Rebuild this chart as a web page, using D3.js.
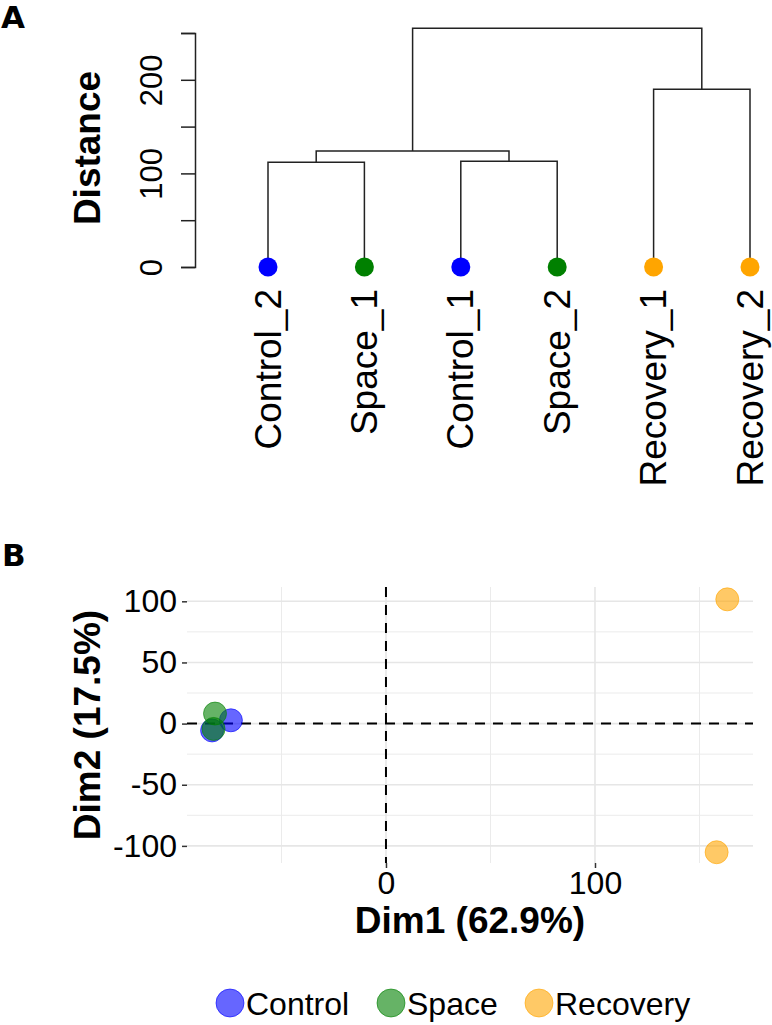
<!DOCTYPE html>
<html>
<head>
<meta charset="utf-8">
<script src="https://cdn.jsdelivr.net/npm/d3@7"></script>
<style>
  body { margin: 0; background: #fff; }
  svg { display: block; }
  text { font-family: "Liberation Sans", Arial, sans-serif; }
</style>
</head>
<body>
<svg id="chart" width="772" height="1025"></svg>
<script>
// dendrogram (panel A)
var leaves = ["Control_2", "Space_1", "Control_1", "Space_2", "Recovery_1", "Recovery_2"];
var leafGroups = ["Control", "Space", "Control", "Space", "Recovery", "Recovery"];
// hclust style merges: negative = leaf index (1 based), positive = earlier merge
var merges = [[-1, -2], [-3, -4], [1, 2], [-5, -6], [3, 4]];
var mergeHeights = [112, 113, 124, 190, 255];
var distTicks = [0, 50, 100, 150, 200, 250];

// PCA (panel B)
var groups = ["Control", "Space", "Recovery"];
var sampleNames = ["Control_1", "Control_2", "Space_1", "Space_2", "Recovery_1", "Recovery_2"];
var sampleGroups = ["Control", "Control", "Space", "Space", "Recovery", "Recovery"];
var dim1 = [-74.2, -83.2, -81.8, -82.5, 163.3, 158.2];
var dim2 = [2.7, -5.6, 8.2, -4.4, 101.6, -105.2];
var xMajor = [0, 100];
var xMinor = [-50, 50, 150];
var yMajor = [-100, -50, 0, 50, 100];
var yMinor = [-75, -25, 25, 75];

var dotColor = { "Control": "#0000ff", "Space": "#008000", "Recovery": "#ffa500" };

var svg = d3.select("#chart");

/* ---------- panel A ---------- */
svg.append("text").attr("x", 1).attr("y", 28)
  .style("font-family", "DejaVu Sans").style("font-weight", "bold").style("font-size", "31px")
  .text("A");

var xLeaf = d3.scalePoint().domain(leaves).range([268, 750]);
var yDist = d3.scaleLinear().domain([0, 250]).range([267, 33]);

var gA = svg.append("g");

// axis, R style: only every other label fits
var distAxis = d3.axisLeft(yDist).tickValues(distTicks).tickSize(14).tickPadding(0)
  .tickFormat(function(d) { return d % 100 === 0 ? String(d) : ""; });
var ga = gA.append("g").attr("transform", "translate(195,0)").call(distAxis);
ga.select(".domain").attr("stroke", "#222").attr("stroke-width", 1.5);
ga.selectAll(".tick line").attr("stroke", "#222").attr("stroke-width", 1.5);
ga.selectAll(".tick text")
  .attr("x", null).attr("dy", null)
  .attr("transform", "translate(-33,0) rotate(-90)")
  .attr("text-anchor", "middle")
  .attr("fill", "#000")
  .style("font-size", "31px");

gA.append("text")
  .attr("transform", "translate(100,148) rotate(-90)")
  .attr("text-anchor", "middle")
  .style("font-weight", "bold").style("font-size", "37px")
  .text("Distance");

// node positions
var nodeX = [], nodeY = [];
function posOf(k) {
  if (k < 0) return [xLeaf(leaves[-k - 1]), yDist(0)];
  return [nodeX[k - 1], nodeY[k - 1]];
}
merges.forEach(function(m, i) {
  var a = posOf(m[0]), b = posOf(m[1]);
  var h = yDist(mergeHeights[i]);
  nodeX.push((a[0] + b[0]) / 2);
  nodeY.push(h);
  gA.append("path")
    .attr("d", "M" + a[0] + "," + a[1] + "V" + h + "H" + b[0] + "V" + b[1])
    .attr("fill", "none").attr("stroke", "#222").attr("stroke-width", 1.5);
});

gA.selectAll(".leaf-dot")
  .data(leaves).enter()
  .append("circle")
  .attr("cx", function(d) { return xLeaf(d); })
  .attr("cy", yDist(0))
  .attr("r", 9.5)
  .attr("fill", function(d, i) { return dotColor[leafGroups[i]]; });

gA.selectAll(".leaf-label")
  .data(leaves).enter()
  .append("text")
  .attr("transform", function(d) { return "translate(" + xLeaf(d) + ",289) rotate(-90)"; })
  .attr("text-anchor", "end")
  .attr("dy", "0.34em")
  .style("font-size", "37px")
  .text(function(d) { return d; });

/* ---------- panel B ---------- */
svg.append("text").attr("x", 2).attr("y", 566)
  .style("font-family", "DejaVu Sans").style("font-weight", "bold").style("font-size", "31px")
  .text("B");

var x = d3.scaleLinear().domain([-95.2, 175.6]).range([187, 753]);
var y = d3.scaleLinear().domain([-114, 111.7]).range([863, 587]);

var gB = svg.append("g");

// grid
gB.selectAll(".xminor").data(xMinor).enter().append("line")
  .attr("x1", function(d) { return x(d); }).attr("x2", function(d) { return x(d); })
  .attr("y1", y.range()[1]).attr("y2", y.range()[0])
  .attr("stroke", "#ebebeb").attr("stroke-width", 1);
gB.selectAll(".yminor").data(yMinor).enter().append("line")
  .attr("y1", function(d) { return y(d); }).attr("y2", function(d) { return y(d); })
  .attr("x1", x.range()[0]).attr("x2", x.range()[1])
  .attr("stroke", "#ebebeb").attr("stroke-width", 1);
gB.selectAll(".xmajor").data(xMajor).enter().append("line")
  .attr("x1", function(d) { return x(d); }).attr("x2", function(d) { return x(d); })
  .attr("y1", y.range()[1]).attr("y2", y.range()[0])
  .attr("stroke", "#e6e6e6").attr("stroke-width", 1.6);
gB.selectAll(".ymajor").data(yMajor).enter().append("line")
  .attr("y1", function(d) { return y(d); }).attr("y2", function(d) { return y(d); })
  .attr("x1", x.range()[0]).attr("x2", x.range()[1])
  .attr("stroke", "#e6e6e6").attr("stroke-width", 1.6);

// axes (no domain line); plain hyphen for negatives like ggplot
var plain = function(d) { return String(d); };
var xAxis = d3.axisBottom(x).tickValues(xMajor).tickSize(5).tickPadding(3).tickFormat(plain);
var gx = gB.append("g").attr("transform", "translate(0," + y.range()[0] + ")").call(xAxis);
var yAxis = d3.axisLeft(y).tickValues(yMajor).tickSize(5).tickPadding(5).tickFormat(plain);
var gy = gB.append("g").attr("transform", "translate(" + x.range()[0] + ",0)").call(yAxis);
[gx, gy].forEach(function(g) {
  g.select(".domain").remove();
  g.selectAll(".tick line").attr("stroke", "#333").attr("stroke-width", 1.5);
  g.selectAll(".tick text").attr("fill", "#000").style("font-size", "32px");
});

// zero reference lines
gB.append("line")
  .attr("x1", x(0)).attr("x2", x(0)).attr("y1", y.range()[1]).attr("y2", y.range()[0])
  .attr("stroke", "#000").attr("stroke-width", 2).attr("stroke-dasharray", "10,8");
gB.append("line")
  .attr("y1", y(0)).attr("y2", y(0)).attr("x1", x.range()[0]).attr("x2", x.range()[1])
  .attr("stroke", "#000").attr("stroke-width", 2).attr("stroke-dasharray", "10,8");

// points
gB.selectAll(".pt")
  .data(sampleNames).enter()
  .append("circle")
  .attr("cx", function(d, i) { return x(dim1[i]); })
  .attr("cy", function(d, i) { return y(dim2[i]); })
  .attr("r", 11.5)
  .attr("fill", function(d, i) { return dotColor[sampleGroups[i]]; })
  .attr("fill-opacity", 0.6)
  .attr("stroke", function(d, i) { return dotColor[sampleGroups[i]]; })
  .attr("stroke-opacity", 0.6)
  .attr("stroke-width", 1);

// axis titles
gB.append("text")
  .attr("x", (x.range()[0] + x.range()[1]) / 2).attr("y", 933)
  .attr("text-anchor", "middle")
  .style("font-weight", "bold").style("font-size", "37px")
  .text("Dim1 (62.9%)");
gB.append("text")
  .attr("transform", "translate(100," + (y.range()[0] + y.range()[1]) / 2 + ") rotate(-90)")
  .attr("text-anchor", "middle")
  .style("font-weight", "bold").style("font-size", "37px")
  .text("Dim2 (17.5%)");

// legend
var legendX = [230, 391, 539];
var lg = svg.selectAll(".legend")
  .data(groups).enter()
  .append("g")
  .attr("transform", function(d, i) { return "translate(" + legendX[i] + ",1003)"; });
lg.append("circle")
  .attr("r", 14)
  .attr("fill", function(d) { return dotColor[d]; })
  .attr("fill-opacity", 0.6)
  .attr("stroke", function(d) { return dotColor[d]; })
  .attr("stroke-opacity", 0.6)
  .attr("stroke-width", 1);
lg.append("text")
  .attr("x", 16).attr("dy", "0.36em")
  .style("font-size", "32px")
  .text(function(d) { return d; });
</script>
</body>
</html>
